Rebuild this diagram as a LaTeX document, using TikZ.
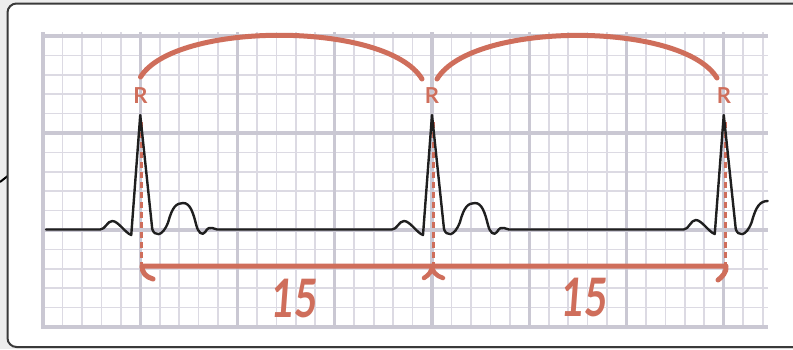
\documentclass[tikz,border=0pt]{standalone}
\usepackage{fontspec}
\setmainfont{Lato}
\definecolor{ecgorange}{HTML}{CF6E5B}
\definecolor{gridminor}{HTML}{DCDAE3}
\definecolor{gridmajor}{HTML}{CAC8D3}
\definecolor{framegray}{HTML}{3A3A3A}
\definecolor{outside}{HTML}{EDEDED}
\begin{document}
\begin{tikzpicture}[x=1pt,y=-1pt,
  minorline/.style={gridminor, line width=1.7pt},
  majorline/.style={gridmajor, line width=3.2pt},
  ecg/.style={black!88, line width=2.4pt, line join=round, line cap=round},
  measure/.style={ecgorange, line width=5pt, line cap=round, line join=round},
  hook/.style={ecgorange, line width=4.5pt, line cap=round, line join=round},
  rdash/.style={ecgorange, line width=3pt, dash pattern=on 6pt off 4pt},
  rlabel/.style={text=ecgorange, font=\fontsize{22}{22}\selectfont\bfseries, inner sep=0pt},
  count/.style={text=ecgorange, font=\fontsize{53}{53}\selectfont\bfseries, inner sep=0pt}]
\useasboundingbox (0,0) rectangle (793,349);
\clip (0,0) rectangle (793,349);
% background and frame
\fill[outside] (0,0) rectangle (793,349);
\draw[black, line width=2pt] (0,182) -- (9,175);
\draw[framegray, line width=2pt, fill=white, rounded corners=9pt] (7.5,3.5) rectangle (805,347);
% grid
\foreach \k in {0,...,15} {
  \pgfmathsetmacro\yy{36+19.4*\k}
  \draw[minorline] (41,\yy) -- (768,\yy);
}
\foreach \k in {0,...,37} {
  \pgfmathsetmacro\xx{43+19.45*\k}
  \draw[minorline] (\xx,32) -- (\xx,329);
}
\foreach \k in {0,5,10,15} {
  \pgfmathsetmacro\yy{36+19.4*\k}
  \draw[majorline] (41,\yy) -- (768,\yy);
}
\foreach \k in {0,5,...,35} {
  \pgfmathsetmacro\xx{43+19.45*\k}
  \draw[majorline] (\xx,32) -- (\xx,329);
}
% R peaks
\coordinate (p1) at (140.25,115);
\coordinate (p2) at (432,115);
\coordinate (p3) at (723.75,115);
% dashed verticals
\foreach \R in {140.25,432,723.75} {
  \draw[rdash] ({\R+1.5},122) -- ({\R+1.5},264);
}
% ECG trace
\draw[ecg] (46,229.5)
  \foreach \R in {140.25,432} {
    -- ({\R-40},229.5)
    .. controls ({\R-35},229.5) and ({\R-33},221) .. ({\R-28},221)
    .. controls ({\R-22},221) and ({\R-15},233) .. ({\R-9},235)
    -- (\R,115)
    -- ({\R+12},229)
    .. controls ({\R+14},236) and ({\R+22},238) .. ({\R+28},222)
    .. controls ({\R+32},207) and ({\R+36},203) .. ({\R+43},203)
    .. controls ({\R+50},203) and ({\R+53},213) .. ({\R+56},225)
    .. controls ({\R+58},233) and ({\R+62},236) .. ({\R+65},232)
    .. controls ({\R+67},228) and ({\R+70},227) .. ({\R+72},228)
    .. controls ({\R+74},229.5) .. ({\R+77},229.5)
  }
  -- (683.75,229.5)
  .. controls (688.75,229.5) and (690.75,220) .. (695.75,220)
  .. controls (701.75,220) and (708.75,232) .. (714.75,234)
  -- (723.75,115)
  -- (735.75,229)
  .. controls (737.75,236) and (745.75,238) .. (751.75,222)
  .. controls (755.75,207) and (759.75,201) .. (767.75,201);
% arcs between R peaks
\draw[measure] (140.5,77) .. controls (175,21) and (387,21) .. (422,79);
\draw[measure] (437,79) .. controls (472,21) and (682,21) .. (717,78);
% R labels
\node[rlabel] (r1) at (140.5,96) {R};
\node[rlabel] (r2) at (432,96) {R};
\node[rlabel] (r3) at (724,96) {R};
% measurement line with hooks
\draw[measure] (153,279) .. controls (146,277) and (142,273) .. (142,266)
  -- (726,266) .. controls (727,272) and (722,277) .. (718,280);
\draw[hook] (424,278) .. controls (429,275) and (432,271) .. (432,266)
  .. controls (432,271) and (436,276) .. (443,278);
% counts
\begin{scope}[shift={(295,299)}]
  \node[count, xscale=0.75, xslant=0.1, transform shape] (n1) at (0,0) {15};
\end{scope}
\begin{scope}[shift={(585,298)}]
  \node[count, xscale=0.75, xslant=0.1, transform shape] (n2) at (0,0) {15};
\end{scope}
\end{tikzpicture}
\end{document}
